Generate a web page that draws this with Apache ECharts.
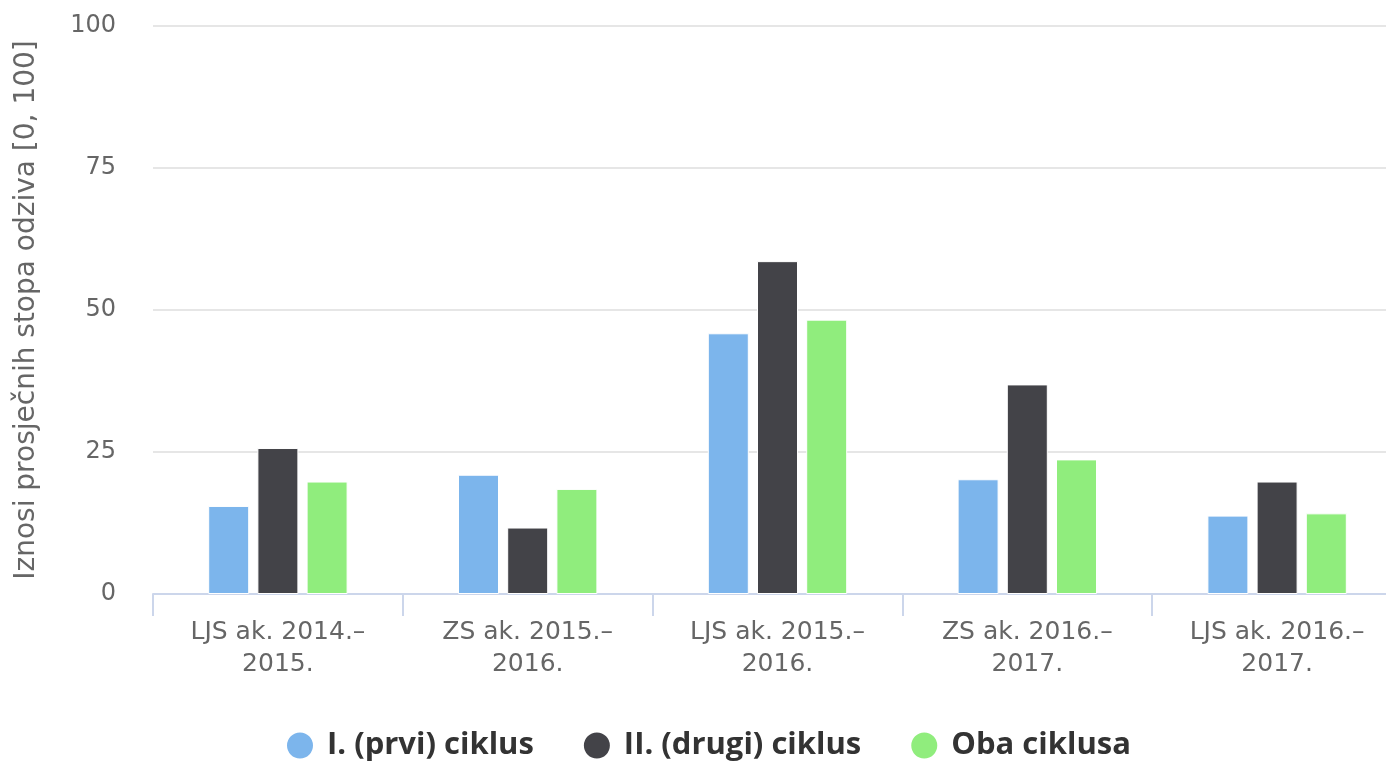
<!DOCTYPE html>
<html>
<head>
<meta charset="utf-8">
<script src="https://cdn.jsdelivr.net/npm/echarts@6/dist/echarts.min.js"></script>
<style>
  html, body { margin: 0; padding: 0; background: #fff; overflow: hidden; }
  #chart { width: 1386px; height: 766px; }
</style>
</head>
<body>
<div id="chart"></div>
<script>
// kategorije i vrijednosti
var categories = ['LJS ak. 2014.–\n2015.', 'ZS ak. 2015.–\n2016.', 'LJS ak. 2015.–\n2016.', 'ZS ak. 2016.–\n2017.', 'LJS ak. 2016.–\n2017.'];
var prviCiklus = [15.5, 21.0, 45.9, 20.2, 13.8];
var drugiCiklus = [25.7, 11.7, 58.6, 36.9, 19.8];
var obaCiklusa = [19.8, 18.5, 48.3, 23.7, 14.2];
var seriesNames = ['I. (prvi) ciklus', 'II. (drugi) ciklus', 'Oba ciklusa'];
var colors = ['#7cb5ec', '#434348', '#90ed7d'];

var font = '"DejaVu Sans", sans-serif';
var legendFont = '"Open Sans", sans-serif';
var chart = echarts.init(document.getElementById('chart'));

function barSeries(name, data) {
    return {
        name: name,
        type: 'bar',
        data: data,
        barWidth: 41,
        barGap: '20%',
        itemStyle: { borderColor: '#fff', borderWidth: 1 },
        emphasis: { disabled: true }
    };
}

var option = {
    color: colors,
    animation: false,
    textStyle: { fontFamily: font },
    // plot area runs a bit past the right edge, like the original
    grid: { left: 153, width: 1249, top: 26, bottom: 172, containLabel: false, outerBoundsMode: 'none' },
    legend: {
        bottom: 0,
        left: 280,
        icon: 'circle',
        itemWidth: 28,
        itemHeight: 28,
        itemGap: 48,
        textStyle: { fontSize: 31, fontWeight: 'bold', color: '#333', fontFamily: legendFont, padding: [0, 0, 0, 8] },
        data: seriesNames
    },
    xAxis: {
        type: 'category',
        data: categories,
        axisLine: { lineStyle: { color: '#ccd6eb', width: 2 } },
        axisTick: { show: true, length: 22, lineStyle: { color: '#ccd6eb', width: 2 } },
        axisLabel: { fontSize: 25, color: '#666', lineHeight: 32, margin: 22 }
    },
    yAxis: {
        type: 'value',
        min: 0,
        max: 100,
        interval: 25,
        name: 'Iznosi prosječnih stopa odziva [0, 100]',
        nameLocation: 'middle',
        nameGap: 112,
        nameTextStyle: { fontSize: 28, color: '#666', fontFamily: font },
        axisLine: { show: false },
        axisTick: { show: false },
        axisLabel: { fontSize: 24, color: '#666', margin: 37 },
        splitLine: { lineStyle: { color: '#e6e6e6', width: 2 } }
    },
    series: [
        barSeries(seriesNames[0], prviCiklus),
        barSeries(seriesNames[1], drugiCiklus),
        barSeries(seriesNames[2], obaCiklusa)
    ]
};

chart.setOption(option);
</script>
</body>
</html>
